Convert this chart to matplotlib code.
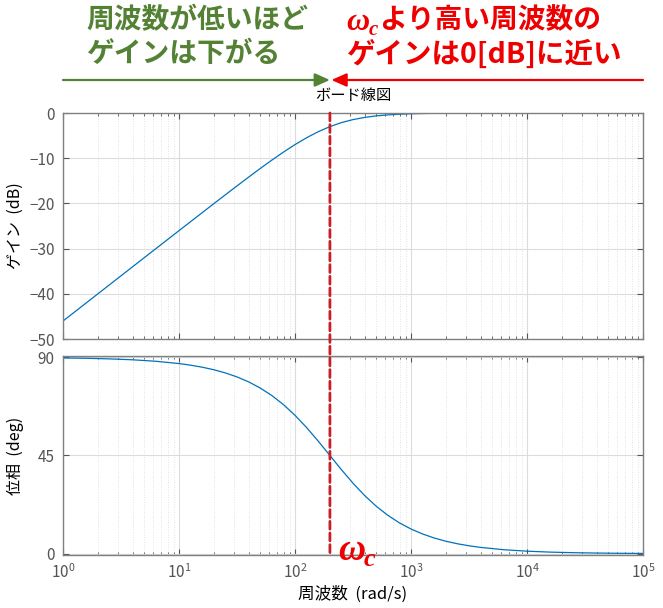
import matplotlib
matplotlib.use("Agg")
import matplotlib.pyplot as plt
from matplotlib.patches import ConnectionPatch, FancyArrowPatch
from matplotlib.transforms import blended_transform_factory

plt.rcParams['font.family'] = ['Noto Sans CJK JP', 'DejaVu Sans']
plt.rcParams['axes.unicode_minus'] = True

# ---- data ----
freq = [1, 1.585, 2.512, 3.981, 6.310, 10, 12.59, 15.85, 19.95, 25.12, 31.62,
        39.81, 50.12, 63.10, 79.43, 100, 125.9, 158.5, 199.5, 251.2, 316.2,
        398.1, 501.2, 631.0, 794.3, 1000, 1259, 1585, 1995, 2512, 3162, 3981,
        6310, 10000, 15850, 25120, 39810, 63100, 100000]
gain_db = [-46.02, -42.02, -38.02, -34.02, -30.02, -26.03, -24.04, -22.05,
           -20.06, -18.09, -16.13, -14.19, -12.28, -10.43, -8.66, -6.99,
           -5.47, -4.14, -3.02, -2.13, -1.46, -0.98, -0.64, -0.42, -0.27,
           -0.17, -0.11, -0.07, -0.04, -0.03, -0.02, -0.01, 0.0, 0.0, 0.0,
           0.0, 0.0, 0.0, 0.0]
phase_deg = [89.71, 89.55, 89.28, 88.86, 88.19, 87.14, 86.40, 85.47, 84.31,
             82.84, 81.02, 78.75, 75.93, 72.49, 68.34, 63.43, 57.81, 51.61,
             45.07, 38.52, 32.31, 26.67, 21.76, 17.59, 14.13, 11.31, 9.03,
             7.19, 5.72, 4.55, 3.62, 2.88, 1.82, 1.15, 0.72, 0.46, 0.29, 0.18,
             0.11]
wc = 200
gain_ticks = [-50, -40, -30, -20, -10, 0]
phase_ticks = [0, 45, 90]

title = 'ボード線図'
green_lines = ['周波数が低いほど', 'ゲインは下がる']
red_line1 = 'より高い周波数の'
red_line2 = 'ゲインは0[dB]に近い'

# ---- figure ----
W, H = 663, 608
fig = plt.figure(figsize=(W / 100, H / 100), dpi=100)


def rect(l, t, r, b):
    return [l / W, 1 - b / H, (r - l) / W, (b - t) / H]


def fx(px):
    return px / W


def fy(py):
    return 1 - py / H


ax1 = fig.add_axes(rect(63, 113, 643, 339))
ax2 = fig.add_axes(rect(63, 356, 643, 555))

blue = '#0072BD'
ax1.plot(freq, gain_db, color=blue, lw=0.9)
ax2.plot(freq, phase_deg, color=blue, lw=0.9)

for ax in (ax1, ax2):
    ax.set_xscale('log')
    ax.set_xlim(1, 1e5)
    ax.grid(True, which='major', color='#dcdcdc', lw=0.8)
    ax.grid(True, which='minor', color='#d8d8d8', lw=0.6, ls=(0, (1, 2)))
    ax.set_axisbelow(True)
    ax.tick_params(which='both', direction='in', top=True, right=True,
                   colors='#555555', labelsize=11)
    ax.tick_params(which='major', length=4, width=0.8)
    ax.tick_params(which='minor', length=2.5, width=0.6)
    ax.tick_params(axis='y', pad=6)
    for s in ax.spines.values():
        s.set_color('#808080')
        s.set_linewidth(1.0)

ax1.set_ylim(-50, 0)
ax1.set_yticks(gain_ticks)
ax1.tick_params(axis='x', which='both', labelbottom=False)
ax2.set_ylim(-0.6, 90.6)
ax2.set_yticks(phase_ticks)
ax2.tick_params(axis='x', pad=6)

ax1.set_ylabel('ゲイン  (dB)', fontsize=11.5)
ax1.yaxis.set_label_coords(-0.068, 0.5)
ax2.set_ylabel('位相  (deg)', fontsize=11.5)
ax2.yaxis.set_label_coords(-0.068, 0.5)
ax2.set_xlabel('周波数  (rad/s)', fontsize=12)
ax2.xaxis.set_label_coords(0.5, -0.155)

fig.text(0.5 * (fx(63) + fx(643)), fy(95), title, ha='center', va='center',
         fontsize=11, color='black')

# dashed omega_c line across both axes
dash_red = '#c81e28'
con = ConnectionPatch(xyA=(wc, 1), coordsA=ax1.get_xaxis_transform(),
                      xyB=(wc, 0), coordsB=ax2.get_xaxis_transform(),
                      color=dash_red, lw=2.0, linestyle=(0, (2.8, 1.4)),
                      zorder=5)
fig.add_artist(con)

# arrows
green = '#548235'
red = '#ee0000'
btr = blended_transform_factory(ax1.transData, fig.transFigure)
ya = fy(80)
ga = FancyArrowPatch((1, ya), (wc, ya), transform=btr,
                     arrowstyle='-|>,head_length=0.45,head_width=0.2',
                     mutation_scale=20, color=green, lw=1.6,
                     shrinkA=0, shrinkB=0)
ra = FancyArrowPatch((1e5, ya), (wc * 1.03, ya), transform=btr,
                     arrowstyle='-|>,head_length=0.45,head_width=0.2',
                     mutation_scale=20, color=red, lw=1.6,
                     shrinkA=0, shrinkB=0)
fig.add_artist(ga)
fig.add_artist(ra)

# annotation texts
fig.text(fx(86), fy(20), green_lines[0], ha='left', va='center',
         fontsize=20, fontweight='bold', color=green)
fig.text(fx(86), fy(54), green_lines[1], ha='left', va='center',
         fontsize=20, fontweight='bold', color=green)

serif = ['Liberation Serif', 'DejaVu Serif']
fig.text(fx(346), fy(23), 'ω', ha='left', va='center', fontsize=23,
         style='italic', fontweight='bold', color=red, family=serif)
fig.text(fx(369), fy(30), 'c', ha='left', va='center', fontsize=15,
         style='italic', fontweight='bold', color=red, family=serif)
fig.text(fx(379), fy(20), red_line1, ha='left', va='center',
         fontsize=20, fontweight='bold', color=red)
fig.text(fx(346), fy(54), red_line2, ha='left', va='center',
         fontsize=20.5, fontweight='bold', color=red)

# omega_c label at bottom
fig.text(fx(338), fy(551), 'ω', ha='left', va='center', fontsize=27,
         style='italic', fontweight='bold', color=red, family=serif)
fig.text(fx(364), fy(560), 'c', ha='left', va='center', fontsize=19,
         style='italic', fontweight='bold', color=red, family=serif)

fig.savefig('out.png', dpi=100)
